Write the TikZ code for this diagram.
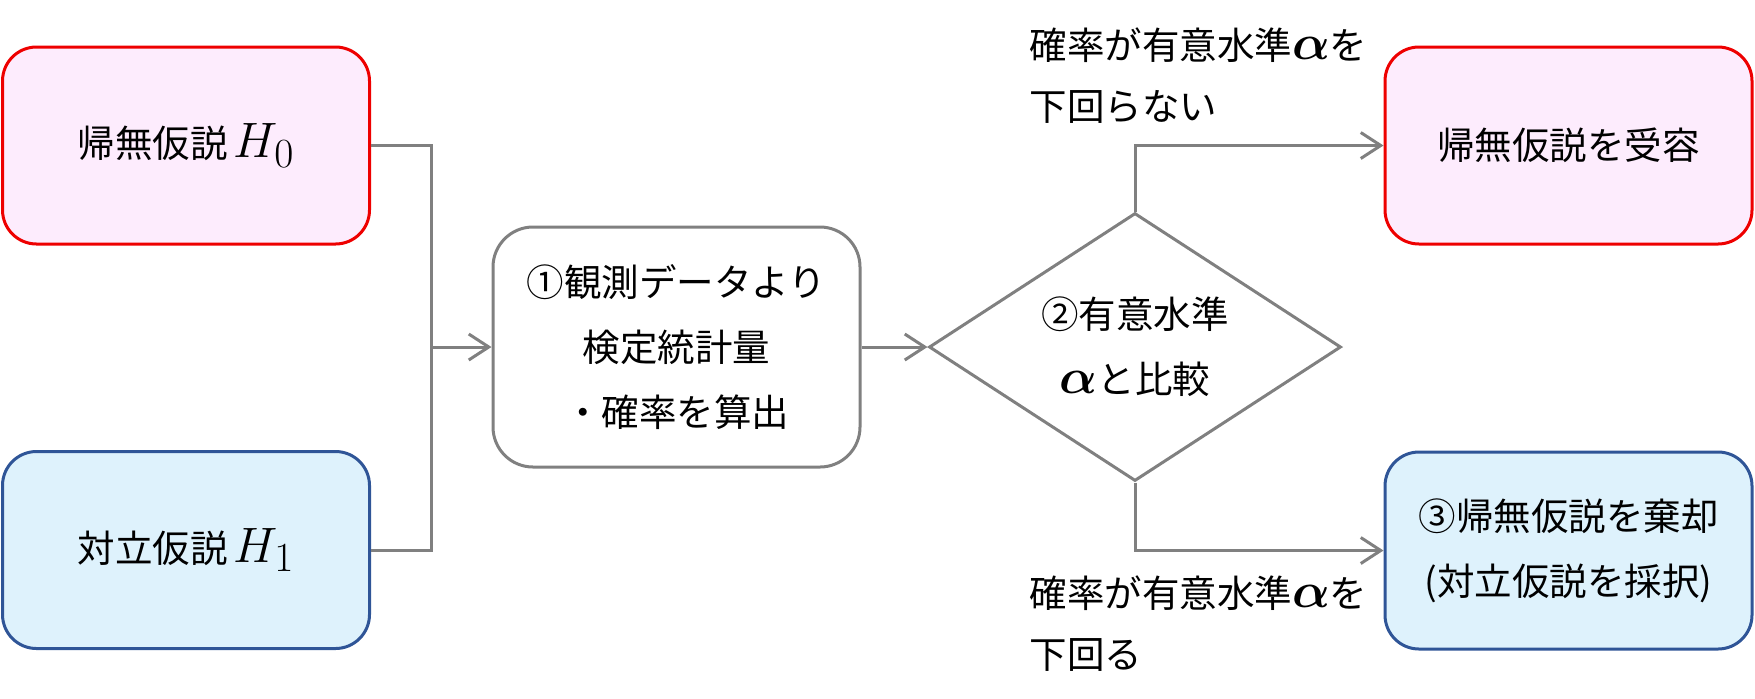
\documentclass[tikz,border=0pt]{standalone}
\usepackage{fontspec}
\usepackage{bm}
\setmainfont{Noto Sans CJK JP}
\usetikzlibrary{
  arrows.meta,
  shapes.geometric,
  positioning
}
\definecolor{nullred}{RGB}{238,0,0}
\definecolor{nullfill}{RGB}{253,236,253}
\definecolor{altblue}{RGB}{47,85,151}
\definecolor{altfill}{RGB}{222,242,252}
\definecolor{linegray}{RGB}{128,128,128}
\DeclareMathSizes{26}{26}{20}{16}
\newcommand{\bigmath}[1]{{\fontsize{26}{30}\selectfont$#1$}}

\begin{document}
\begin{tikzpicture}[x=0.5pt,y=-0.5pt,
      jtext/.style={
         font=\fontsize{18.75}{32.5}\selectfont,
         align=center
      },
      nullbox/.style={
         jtext,
         rectangle,
         rounded corners=17pt,
         line width=1.5pt,
         draw=nullred,
         fill=nullfill,
         minimum width=183.5pt,
         minimum height=98.5pt
      },
      altbox/.style={
         nullbox,
         draw=altblue,
         fill=altfill
      },
      calcbox/.style={
         jtext,
         rectangle,
         rounded corners=20pt,
         line width=1.5pt,
         draw=linegray,
         fill=white,
         minimum width=183.5pt,
         minimum height=120pt
      },
      decision/.style={
         jtext,
         diamond,
         aspect=1.537,
         inner sep=0pt,
         line width=1.5pt,
         draw=linegray,
         minimum width=206pt,
         minimum height=134pt
      },
      branch/.style={
         font=\fontsize{18.75}{30.5}\selectfont,
         align=left,
         anchor=west,
         inner sep=0pt
      },
      point/.style={coordinate},
      >={Straight Barb[length=10pt,width=13pt]},
      line width=1.5pt,draw=linegray,
      tip/.style={->},
      hv path/.style={to path={-| (\tikztotarget)}},
      vh path/.style={to path={|- (\tikztotarget)}}
    ]
    \useasboundingbox (0,0) rectangle (1755,698);
    % hypotheses
    \node (h0) [nullbox] at (186,145.5) {帰無仮説\,\bigmath{H_0}};
    \node (h1) [altbox] at (186,550) {対立仮説\,\bigmath{H_1}};
    \node (j) [point] at (431,347) {};
    % test
    \node (calc) [calcbox] at (676.5,347) {①観測データより\\検定統計量\\・確率を算出};
    \node (cmp) [decision] at (1135,347) {②有意水準\\\bigmath{\bm{\alpha}}と比較};
    % results
    \node (accept) [nullbox] at (1568.5,145.5) {帰無仮説を受容};
    \node (reject) [altbox] at (1568.5,550.5) {③帰無仮説を棄却\\(対立仮説を採択)};
    \node (lblacc) [branch] at (1028,75.5) {確率が有意水準\bigmath{\bm{\alpha}}を\\下回らない};
    \node (lblrej) [branch] at (1028,624) {確率が有意水準\bigmath{\bm{\alpha}}を\\下回る};
    % connectors
    \draw[linegray] (h0) to[hv path] (j);
    \draw[linegray] (h1) to[hv path] (j);
    \draw[linegray,tip] (j) -- (calc);
    \draw[linegray,tip] (calc) -- (cmp);
    \draw[linegray,tip] (cmp.north) to[vh path] (accept);
    \draw[linegray,tip] (cmp.south) to[vh path] (reject);
\end{tikzpicture}
\end{document}
